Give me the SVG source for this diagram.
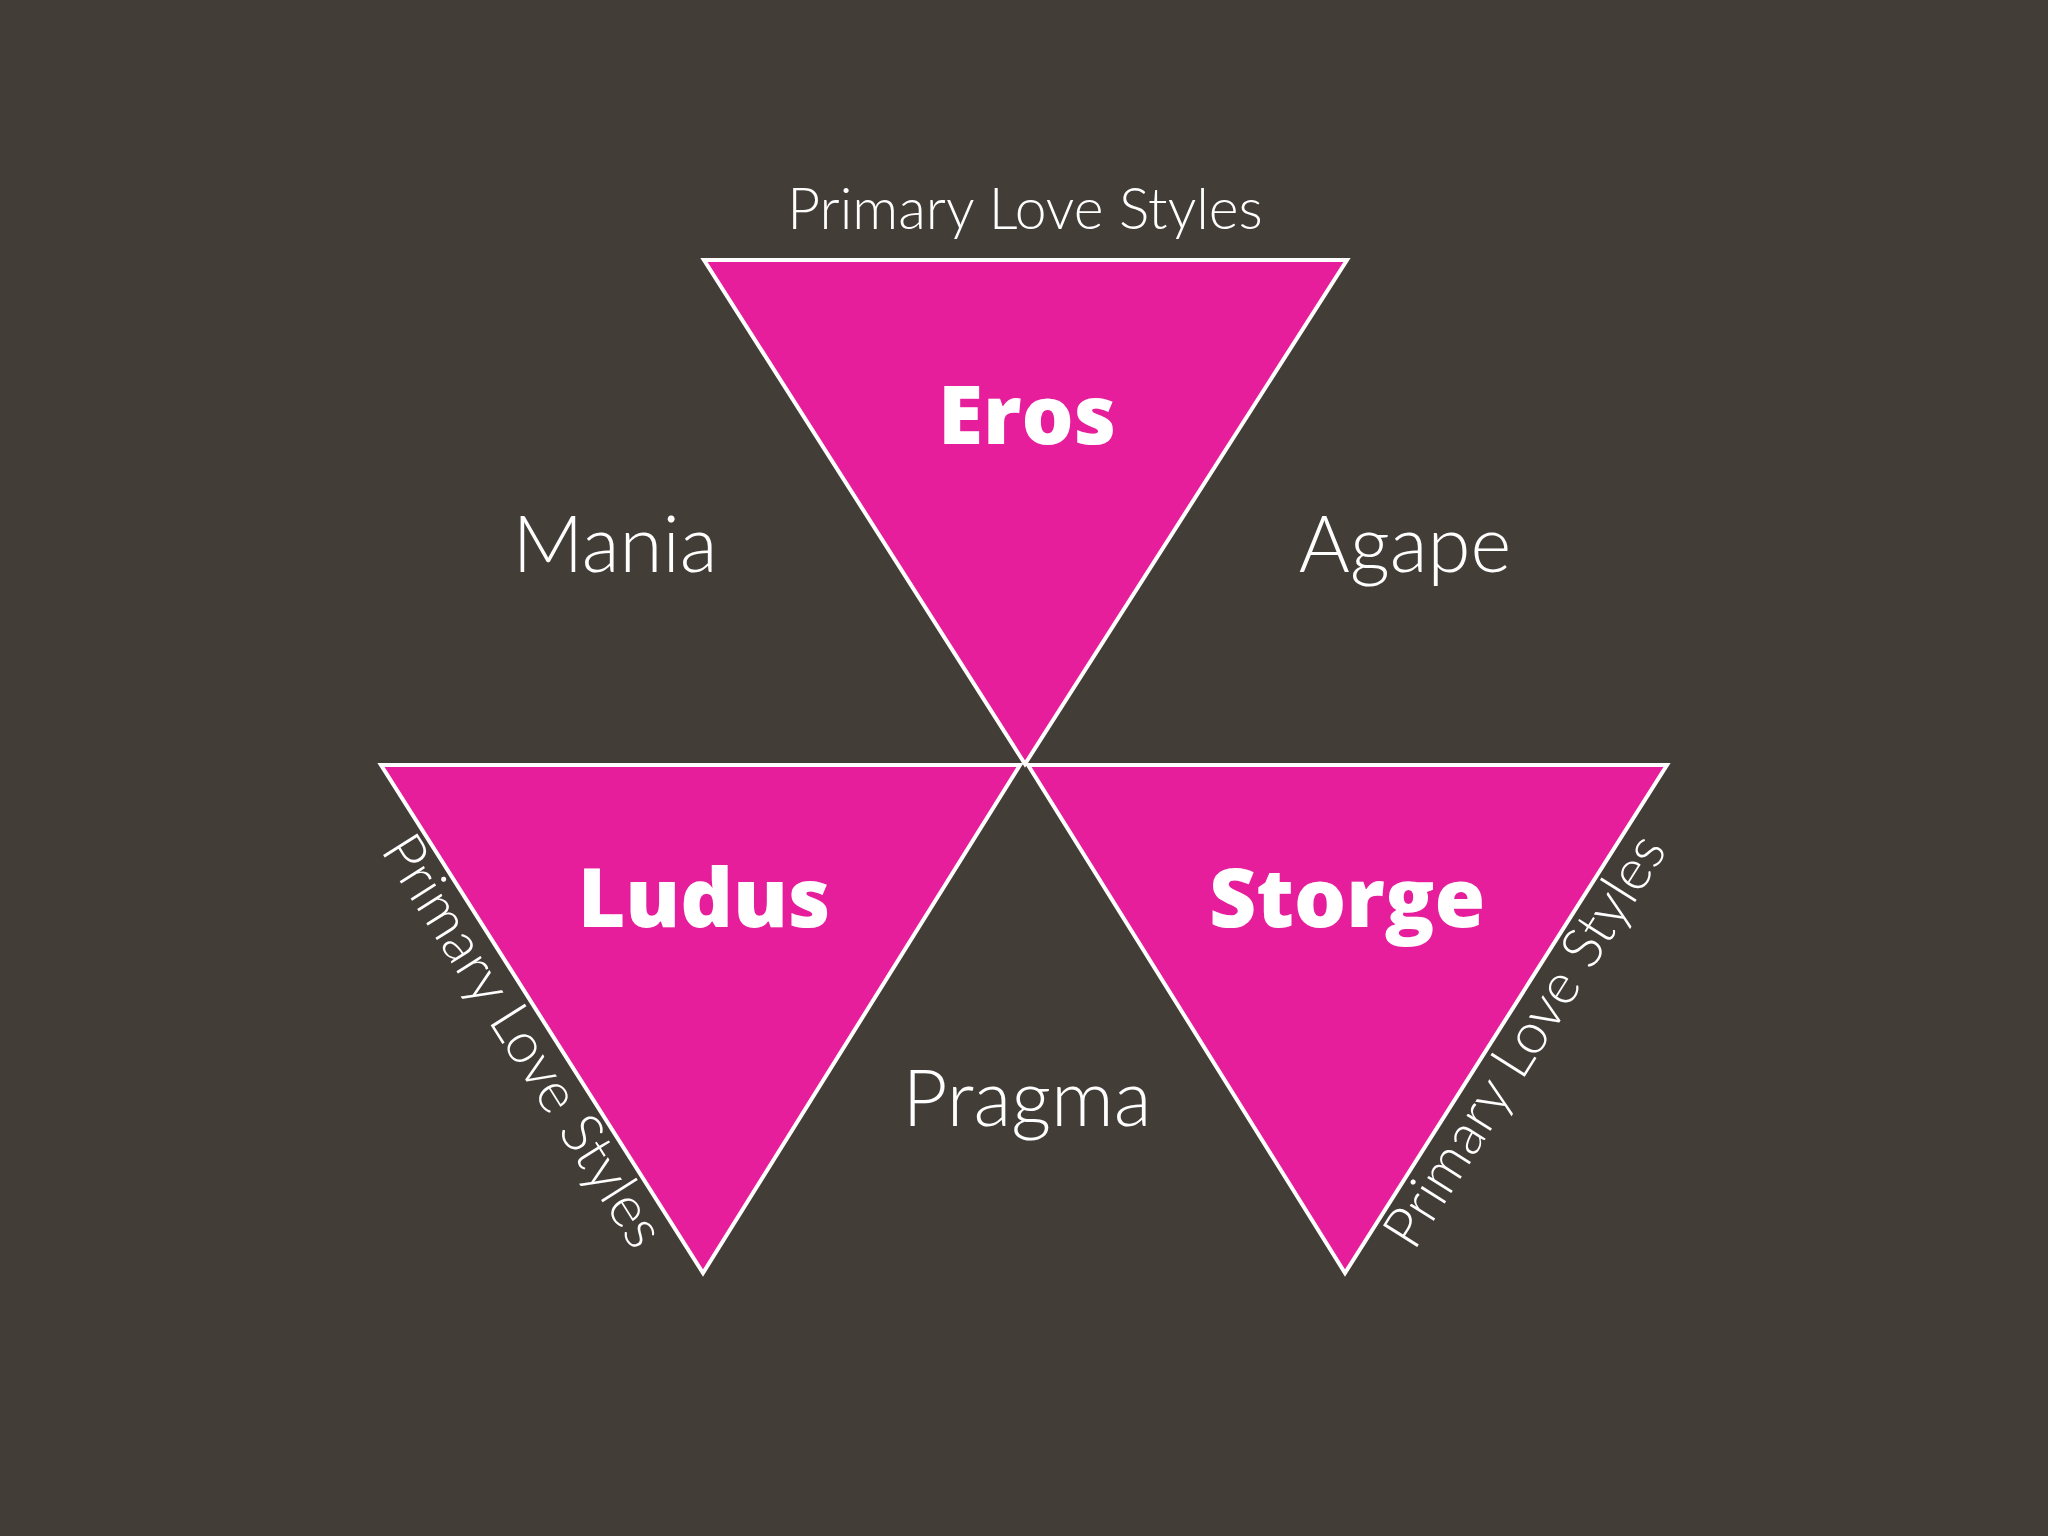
<svg xmlns="http://www.w3.org/2000/svg" width="2048" height="1536" viewBox="0 0 2048 1536">
<style>
.tri{fill:#e61e9c;stroke:#ffffff;stroke-width:4;stroke-linejoin:miter}
.b{font-family:"Open Sans","Liberation Sans",sans-serif;font-weight:800;font-size:82px;fill:#fff;text-anchor:middle}
.l{font-family:Lato,"Liberation Sans",sans-serif;font-weight:300;font-size:78px;fill:#fff;text-anchor:middle}
.s{font-family:Lato,"Liberation Sans",sans-serif;font-weight:300;font-size:57px;fill:#fff;text-anchor:middle}
</style>
<rect width="2048" height="1536" fill="#433d38"/>
<g id="eros"><polygon class="tri" points="704,260 1347,260 1025,764"/><text class="b" x="1027" y="444">Eros</text></g>
<g id="ludus"><polygon class="tri" points="381,765 1020,765 703,1273"/><text class="b" x="704" y="927">Ludus</text></g>
<g id="storge"><polygon class="tri" points="1028,765 1667,765 1345,1273"/><text class="b" x="1347" y="927">Storge</text></g>
<g id="labels">
<text class="s" x="1025" y="229">Primary Love Styles</text>
<text class="s" transform="translate(507,1051) rotate(57.7)" x="0" y="0">Primary Love Styles</text>
<text class="s" transform="translate(1541,1051) rotate(-57.7)" x="0" y="0">Primary Love Styles</text>
<text class="l" x="615" y="572">Mania</text>
<text class="l" x="1405" y="572">Agape</text>
<text class="l" x="1027" y="1126">Pragma</text>
</g>
<g id="connectors"/>
</svg>
